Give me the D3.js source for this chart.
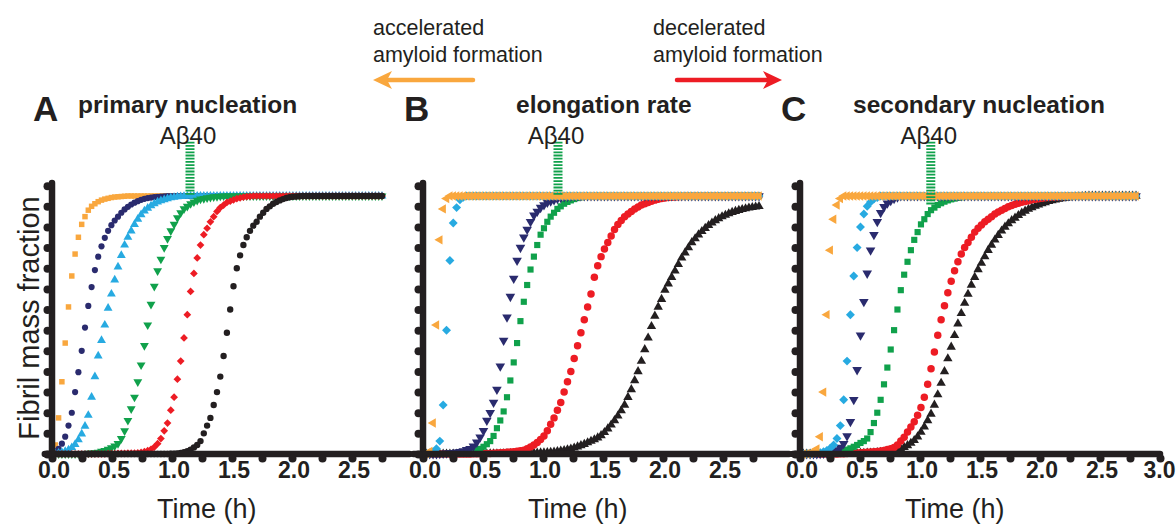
<!DOCTYPE html>
<html>
<head>
<meta charset="utf-8">
<script src="https://cdn.jsdelivr.net/npm/d3@7"></script>
<style>
  body { margin: 0; background: #fff; }
  svg { display: block; }
  text { font-family: "Liberation Sans", Arial, Helvetica, sans-serif; fill: #231F20; }
  .tick text { font-family: "Liberation Sans Narrow", "Arial Narrow", "Liberation Sans", Arial, sans-serif; }
</style>
</head>
<body>
<svg id="chart" width="1176" height="525"></svg>
<script>
// ---- sampling times (h) ----
const timeA = [
  0,0.0275,0.055,0.0825,0.11,0.1375,0.165,0.1925,0.22,0.2475,
  0.275,0.3025,0.33,0.3575,0.385,0.4125,0.44,0.4675,0.495,0.5225,
  0.55,0.5775,0.605,0.6325,0.66,0.6875,0.715,0.7425,0.77,0.7975,
  0.825,0.8525,0.88,0.9075,0.935,0.9625,0.99,1.0175,1.045,1.0725,
  1.1,1.1275,1.155,1.1825,1.21,1.2375,1.265,1.2925,1.32,1.3475,
  1.375,1.4025,1.43,1.4575,1.485,1.5125,1.54,1.5675,1.595,1.6225,
  1.65,1.6775,1.705,1.7325,1.76,1.7875,1.815,1.8425,1.87,1.8975,
  1.925,1.9525,1.98,2.0075,2.035,2.0625,2.09,2.1175,2.145,2.1725,
  2.2,2.2275,2.255,2.2825,2.31,2.3375,2.365,2.3925,2.42,2.4475,
  2.475,2.5025,2.53,2.5575,2.585,2.6125,2.64,2.6675,2.695,2.7225,
  2.75];
const timeBC = [
  0,0.028,0.056,0.084,0.112,0.14,0.168,0.196,0.224,0.252,
  0.28,0.308,0.336,0.364,0.392,0.42,0.448,0.476,0.504,0.532,
  0.56,0.588,0.616,0.644,0.672,0.7,0.728,0.756,0.784,0.812,
  0.84,0.868,0.896,0.924,0.952,0.98,1.008,1.036,1.064,1.092,
  1.12,1.148,1.176,1.204,1.232,1.26,1.288,1.316,1.344,1.372,
  1.4,1.428,1.456,1.484,1.512,1.54,1.568,1.596,1.624,1.652,
  1.68,1.708,1.736,1.764,1.792,1.82,1.848,1.876,1.904,1.932,
  1.96,1.988,2.016,2.044,2.072,2.1,2.128,2.156,2.184,2.212,
  2.24,2.268,2.296,2.324,2.352,2.38,2.408,2.436,2.464,2.492,
  2.52,2.548,2.576,2.604,2.632,2.66,2.688,2.716,2.744,2.772,
  2.8];

// ---- A: primary nucleation, fibril mass fraction ----
const aOrange = [
  0,.035,.14,.28,.43,.57,.69,.775,.84,.89,
  .92,.945,.96,.97,.978,.984,.988,.991,.994,.996,
  .997,.998,.999,1,1,1,1,1,1,1,
  1,1,1,1,1,1,1,1,1,1, 1,1,1,1,1,1,1,1,1,1,
  1,1,1,1,1,1,1,1,1,1, 1,1,1,1,1,1,1,1,1,1,
  1,1,1,1,1,1,1,1,1,1, 1,1,1,1,1,1,1,1,1,1,
  1,1,1,1,1,1,1,1,1,1, 1];
const aNavy = [
  0,.01,.02,.04,.067,.11,.16,.24,.317,.4,
  .49,.574,.647,.713,.765,.805,.838,.865,.887,.905,
  .92,.935,.948,.958,.967,.974,.98,.985,.989,.992,
  .994,.996,.997,.998,.999,1,1,1,1,1,
  1,1,1,1,1,1,1,1,1,1, 1,1,1,1,1,1,1,1,1,1,
  1,1,1,1,1,1,1,1,1,1, 1,1,1,1,1,1,1,1,1,1,
  1,1,1,1,1,1,1,1,1,1, 1,1,1,1,1,1,1,1,1,1, 1];
const aBlue = [
  0,.001,.003,.006,.01,.016,.025,.037,.055,.078,
  .108,.15,.22,.3,.38,.44,.5,.565,.62,.675,
  .725,.77,.81,.84,.865,.89,.91,.928,.942,.953,
  .962,.97,.977,.982,.986,.99,.993,.995,.997,.998,
  .999,1,1,1,1,1,1,1,1,1,
  1,1,1,1,1,1,1,1,1,1, 1,1,1,1,1,1,1,1,1,1,
  1,1,1,1,1,1,1,1,1,1, 1,1,1,1,1,1,1,1,1,1,
  1,1,1,1,1,1,1,1,1,1, 1];
const aGreen = [
  0,0,0,0,0,0,0,0,0,.001,
  .002,.003,.004,.005,.007,.01,.013,.018,.024,.031,
  .04,.06,.09,.13,.175,.22,.28,.345,.42,.5,
  .58,.65,.71,.755,.8,.835,.865,.89,.915,.935,
  .95,.96,.97,.977,.983,.988,.99,.993,.995,.997,
  .998,.999,1,1,1,1,1,1,1,1,
  1,1,1,1,1,1,1,1,1,1, 1,1,1,1,1,1,1,1,1,1,
  1,1,1,1,1,1,1,1,1,1, 1,1,1,1,1,1,1,1,1,1, 1];
const aRed = [
  0,0,0,0,0,0,0,0,0,0,
  0,0,0,0,0,0,0,.001,.001,.001,
  .002,.002,.002,.003,.003,.003,.004,.006,.009,.013,
  .018,.027,.04,.06,.09,.12,.17,.22,.29,.36,
  .45,.54,.63,.7,.76,.81,.85,.875,.9,.92,
  .94,.955,.965,.975,.98,.985,.99,.993,.996,.998,
  .999,1,1,1,1,1,1,1,1,1,
  1,1,1,1,1,1,1,1,1,1, 1,1,1,1,1,1,1,1,1,1,
  1,1,1,1,1,1,1,1,1,1, 1];
const aBlack = [
  0,0,0,0,0,0,0,0,0,0, 0,0,0,0,0,0,0,0,0,0, 0,0,0,0,0,0,0,0,0,0,
  0,0,0,0,0,0,.001,.001,.002,.004,
  .007,.011,.017,.025,.035,.05,.08,.11,.14,.19,
  .24,.3,.38,.47,.56,.65,.72,.77,.81,.84,
  .865,.885,.9,.92,.935,.95,.96,.97,.977,.983,
  .988,.992,.995,.997,.998,.999,1,1,1,1,
  1,1,1,1,1,1,1,1,1,1, 1,1,1,1,1,1,1,1,1,1, 1];

// ---- B: elongation rate ----
const bOrange = [
  0,.002,.01,.12,.5,.83,.95,.99,1,1,
  1,1,1,1,1,1,1,1,1,1, 1,1,1,1,1,1,1,1,1,1,
  1,1,1,1,1,1,1,1,1,1, 1,1,1,1,1,1,1,1,1,1,
  1,1,1,1,1,1,1,1,1,1, 1,1,1,1,1,1,1,1,1,1,
  1,1,1,1,1,1,1,1,1,1, 1,1,1,1,1,1,1,1,1,1,
  1,1,1,1,1,1,1,1,1,1, 1];
const bBlue = [
  0,.001,.003,.008,.02,.05,.19,.48,.75,.895,
  .955,.985,.995,1,1,1,1,1,1,1,
  1,1,1,1,1,1,1,1,1,1, 1,1,1,1,1,1,1,1,1,1,
  1,1,1,1,1,1,1,1,1,1, 1,1,1,1,1,1,1,1,1,1,
  1,1,1,1,1,1,1,1,1,1, 1,1,1,1,1,1,1,1,1,1,
  1,1,1,1,1,1,1,1,1,1, 1,1,1,1,1,1,1,1,1,1, 1];
const bNavy = [
  0,0,0,0,0,.001,.002,.003,.004,.005,
  .007,.009,.012,.016,.02,.03,.045,.065,.09,.13,
  .16,.2,.25,.34,.44,.53,.61,.68,.75,.8,
  .84,.87,.9,.925,.94,.955,.965,.975,.98,.985,
  .99,.993,.996,.998,.999,1,1,1,1,1,
  1,1,1,1,1,1,1,1,1,1, 1,1,1,1,1,1,1,1,1,1,
  1,1,1,1,1,1,1,1,1,1, 1,1,1,1,1,1,1,1,1,1,
  1,1,1,1,1,1,1,1,1,1, 1];
const bGreen = [
  0,0,0,0,0,0,0,0,.001,.002,
  .003,.004,.005,.006,.008,.011,.015,.02,.028,.038,
  .05,.07,.1,.13,.165,.22,.285,.355,.43,.515,
  .59,.655,.715,.765,.81,.85,.875,.9,.92,.935,
  .95,.96,.97,.977,.983,.988,.992,.995,.997,.998,
  .999,1,1,1,1,1,1,1,1,1,
  1,1,1,1,1,1,1,1,1,1, 1,1,1,1,1,1,1,1,1,1,
  1,1,1,1,1,1,1,1,1,1, 1,1,1,1,1,1,1,1,1,1, 1];
const bRed = [
  0,0,0,0,0,0,0,0,0,0,
  0,0,0,0,0,.001,.001,.001,.002,.002,
  .002,.003,.004,.005,.006,.007,.008,.009,.011,.013,
  .015,.02,.027,.035,.045,.056,.07,.09,.115,.14,
  .17,.2,.24,.28,.32,.37,.42,.47,.52,.57,
  .62,.685,.73,.765,.795,.82,.845,.87,.89,.905,
  .92,.93,.94,.95,.957,.965,.97,.975,.98,.984,
  .987,.99,.992,.994,.995,.996,.997,.998,.999,1,
  1,1,1,1,1,1,1,1,1,1, 1,1,1,1,1,1,1,1,1,1, 1];
const bBlack = [
  0,0,0,0,0,0,0,0,0,0, 0,0,0,0,0,0,0,0,0,0,
  .001,.001,.001,.001,.001,.002,.002,.002,.002,.002,
  .003,.003,.003,.004,.004,.005,.005,.006,.007,.008,
  .01,.012,.014,.017,.02,.024,.028,.033,.038,.044,
  .05,.056,.063,.072,.084,.098,.113,.13,.148,.168,
  .19,.22,.25,.285,.32,.36,.405,.45,.495,.535,
  .57,.6,.635,.66,.685,.71,.735,.76,.78,.8,
  .82,.835,.85,.863,.875,.886,.896,.905,.913,.92,
  .926,.932,.937,.941,.945,.948,.951,.954,.956,.958,
  .96];

// ---- C: secondary nucleation ----
const cOrange = [
  0,0,.001,.003,.008,.02,.067,.24,.54,.79,
  .91,.965,.99,1,1,1,1,1,1,1,
  1,1,1,1,1,1,1,1,1,1, 1,1,1,1,1,1,1,1,1,1,
  1,1,1,1,1,1,1,1,1,1, 1,1,1,1,1,1,1,1,1,1,
  1,1,1,1,1,1,1,1,1,1, 1,1,1,1,1,1,1,1,1,1,
  1,1,1,1,1,1,1,1,1,1, 1,1,1,1,1,1,1,1,1,1, 1];
const cBlue = [
  0,0,.001,.001,.002,.003,.005,.009,.014,.022,
  .035,.06,.11,.21,.36,.54,.69,.8,.88,.93,
  .96,.977,.988,.994,1,1,1,1,1,1,
  1,1,1,1,1,1,1,1,1,1, 1,1,1,1,1,1,1,1,1,1,
  1,1,1,1,1,1,1,1,1,1, 1,1,1,1,1,1,1,1,1,1,
  1,1,1,1,1,1,1,1,1,1, 1,1,1,1,1,1,1,1,1,1,
  1,1,1,1,1,1,1,1,1,1, 1];
const cNavy = [
  0,0,0,0,0,0,.001,.002,.003,.005,
  .009,.015,.025,.04,.07,.125,.21,.326,.46,.59,
  .7,.79,.85,.9,.935,.958,.972,.982,.99,.995,
  1,1,1,1,1,1,1,1,1,1, 1,1,1,1,1,1,1,1,1,1,
  1,1,1,1,1,1,1,1,1,1, 1,1,1,1,1,1,1,1,1,1,
  1,1,1,1,1,1,1,1,1,1, 1,1,1,1,1,1,1,1,1,1,
  1,1,1,1,1,1,1,1,1,1, 1];
const cGreen = [
  0,0,0,0,0,.001,.001,.002,.003,.004,
  .005,.007,.01,.013,.017,.022,.028,.035,.043,.05,
  .06,.085,.12,.16,.21,.27,.335,.405,.48,.56,
  .635,.695,.745,.79,.83,.86,.89,.91,.93,.945,
  .955,.965,.972,.978,.983,.987,.99,.993,.995,.997,
  .998,.999,1,1,1,1,1,1,1,1,
  1,1,1,1,1,1,1,1,1,1, 1,1,1,1,1,1,1,1,1,1,
  1,1,1,1,1,1,1,1,1,1, 1,1,1,1,1,1,1,1,1,1, 1];
const cRed = [
  0,0,0,0,0,0,0,0,0,0,
  0,0,.001,.001,.002,.003,.003,.004,.005,.006,
  .007,.008,.009,.01,.012,.014,.017,.02,.025,.035,
  .05,.065,.085,.105,.125,.15,.18,.22,.27,.33,
  .395,.46,.52,.575,.625,.67,.71,.745,.775,.8,
  .82,.84,.86,.875,.888,.9,.91,.92,.93,.938,
  .945,.952,.958,.963,.968,.972,.976,.979,.982,.985,
  .987,.989,.991,.993,.994,.995,.996,.997,.998,.999,
  1,1,1,1,1,1,1,1,1,1, 1,1,1,1,1,1,1,1,1,1, 1];
const cBlack = [
  0,0,0,0,0,0,0,0,0,0,
  0,0,0,0,.001,.002,.002,.002,.003,.003,
  .004,.004,.005,.006,.007,.008,.01,.012,.014,.017,
  .02,.026,.033,.042,.053,.067,.085,.105,.13,.155,
  .19,.23,.275,.32,.37,.415,.46,.505,.545,.585,
  .62,.655,.685,.715,.74,.765,.79,.81,.83,.848,
  .865,.88,.893,.905,.915,.925,.934,.942,.949,.955,
  .961,.966,.971,.975,.979,.982,.985,.988,.99,.992,
  .994,.995,.996,.997,.998,.999,1,1,1,1,
  1,1,1,1,1,1,1,1,1,1, 1];

// ---- axes, labels ----
const xTicks = [0,0.25,0.5,0.75,1,1.25,1.5,1.75,2,2.25,2.5,2.75];
const xTicksC = [0,0.25,0.5,0.75,1,1.25,1.5,1.75,2,2.25,2.5,2.75,3];
const xTickLabels = ["0.0","0.5","1.0","1.5","2.0","2.5","3.0"];
const yTicks = [0,0.08,0.16,0.24,0.32,0.4,0.48,0.56,0.64,0.72,0.8,0.88,0.96,1.04];
const panelLetters = ["A","B","C"];
const panelTitles = ["primary nucleation","elongation rate","secondary nucleation"];
const peptideLabel = "A\u03b240";
const markerTime = [1.15, 1.125, 1.09];     // Aβ40 reference position (h)
const markerTop = [1.21, 1.21, 1.21];
const markerBottom = [1.0, 1.0, 0.965];
const xTitle = "Time (h)";
const yTitle = "Fibril mass fraction";

const colors = {
  orange: "#F9A73E", navy: "#2A2B6E", blue: "#27AAE1",
  green: "#10A14B", red: "#ED1C24", black: "#231F20"
};

const svg = d3.select("#chart");
svg.append("rect").attr("width", 1176).attr("height", 525).attr("fill", "#fff");

// shared vertical scale
const y = d3.scaleLinear().domain([0, 1]).range([454, 196]);
const yAxisScale = d3.scaleLinear().domain([0, 1.05]).range([y(0), y(1.05)]);

const panels = [
  { origin: 52,  xmin: -0.06, xmax: 2.98, ticks: xTicks, time: timeA,
    series: [
      { v: aOrange, c: colors.orange, shape: "square",   size: 30 },
      { v: aNavy,   c: colors.navy,   shape: "circle",   size: 30 },
      { v: aBlue,   c: colors.blue,   shape: "triUp",    size: 34 },
      { v: aGreen,  c: colors.green,  shape: "triDown",  size: 34 },
      { v: aRed,    c: colors.red,    shape: "diamond",  size: 30 },
      { v: aBlack,  c: colors.black,  shape: "circle",   size: 32 } ] },
  { origin: 423, xmin: -0.08, xmax: 3.05, ticks: xTicks, time: timeBC,
    series: [
      { v: bBlack,  c: colors.black,  shape: "triUp",    size: 38 },
      { v: bRed,    c: colors.red,    shape: "circle",   size: 44 },
      { v: bGreen,  c: colors.green,  shape: "square",   size: 38 },
      { v: bNavy,   c: colors.navy,   shape: "triDown",  size: 40 },
      { v: bBlue,   c: colors.blue,   shape: "diamond",  size: 40 },
      { v: bOrange, c: colors.orange, shape: "triLeft",  size: 38 } ] },
  { origin: 800, xmin: -0.06, xmax: 3.0, ticks: xTicksC, time: timeBC,
    series: [
      { v: cBlack,  c: colors.black,  shape: "triUp",    size: 38 },
      { v: cRed,    c: colors.red,    shape: "circle",   size: 44 },
      { v: cGreen,  c: colors.green,  shape: "square",   size: 38 },
      { v: cNavy,   c: colors.navy,   shape: "triDown",  size: 40 },
      { v: cBlue,   c: colors.blue,   shape: "diamond",  size: 40 },
      { v: cOrange, c: colors.orange, shape: "triLeft",  size: 38 } ] }
];

const shapeDefs = {
  circle:  { type: d3.symbolCircle,   rot: 0 },
  square:  { type: d3.symbolSquare,   rot: 0 },
  diamond: { type: d3.symbolSquare,   rot: 45 },
  triUp:   { type: d3.symbolTriangle, rot: 0 },
  triDown: { type: d3.symbolTriangle, rot: 180 },
  triLeft: { type: d3.symbolTriangle, rot: -90 }
};

const PX_PER_H = 120;

panels.forEach((p, i) => {
  const x = d3.scaleLinear()
    .domain([p.xmin, p.xmax])
    .range([p.origin + PX_PER_H * p.xmin, p.origin + PX_PER_H * p.xmax]);
  const g = svg.append("g");

  // data markers
  p.series.forEach(s => {
    const def = shapeDefs[s.shape];
    const sym = d3.symbol().type(def.type).size(s.size);
    g.append("g").selectAll("path")
      .data(p.time.map((t, k) => [t, s.v[k]]))
      .join("path")
      .attr("d", sym)
      .attr("fill", s.c)
      .attr("transform", d => `translate(${x(d[0])},${y(d[1])}) rotate(${def.rot})`);
  });

  // x axis
  const xAxis = d3.axisBottom(x)
    .tickValues(p.ticks)
    .tickSize(0).tickSizeOuter(0)
    .tickFormat(d => (Math.round(d * 100) % 50 === 0) ? xTickLabels[Math.round(d * 2)] : "");
  const gx = g.append("g").attr("transform", `translate(0,${y(0)})`).call(xAxis);
  gx.select(".domain").attr("stroke", colors.black).attr("stroke-width", 6.5)
    .attr("stroke-linecap", "round").attr("d", `M${x(p.xmin)},0H${x(p.xmax)}`);
  gx.selectAll(".tick").append("circle").attr("cx", 0).attr("cy", 4.5).attr("r", 4).attr("fill", colors.black);
  gx.selectAll(".tick text")
    .attr("x", d => d >= 3 ? -1 : 1.5).attr("y", 24).attr("dy", null)
    .style("font-size", "23px").style("font-weight", "bold")
    .attr("fill", colors.black);

  // y axis
  const yAxis = d3.axisLeft(yAxisScale).tickValues(yTicks).tickSize(0).tickSizeOuter(0).tickFormat("");
  const gy = g.append("g").attr("transform", `translate(${x(0)},0)`).call(yAxis);
  gy.select(".domain").attr("stroke", colors.black).attr("stroke-width", 6.5)
    .attr("stroke-linecap", "round").attr("d", `M0,${y(0)}V${yAxisScale(1.05)}`);
  gy.selectAll(".tick").append("circle").attr("cx", -4.5).attr("cy", 0).attr("r", 4).attr("fill", colors.black);

  // Aβ40 reference marker
  g.append("line")
    .attr("x1", x(markerTime[i])).attr("x2", x(markerTime[i]))
    .attr("y1", y(markerTop[i])).attr("y2", y(markerBottom[i]))
    .attr("stroke", colors.green).attr("stroke-width", 9)
    .attr("stroke-dasharray", "1.8,1.4");
  g.append("text")
    .attr("x", x(markerTime[i]) - 2).attr("y", 144)
    .attr("text-anchor", "middle")
    .style("font-size", "24px")
    .text(peptideLabel);

  // panel letter + title
  g.append("text").attr("x", p.origin - 19).attr("y", 121)
    .style("font-size", "35px").style("font-weight", "bold").text(panelLetters[i]);
  g.append("text").attr("x", [78, 516, 853][i]).attr("y", 113)
    .style("font-size", "24.5px").style("font-weight", "bold").text(panelTitles[i]);

  // x title
  g.append("text").attr("x", x(1.29)).attr("y", 518)
    .attr("text-anchor", "middle").style("font-size", "27px").text(xTitle);
});

// y title
svg.append("text")
  .attr("transform", "translate(39,318) rotate(-90)")
  .attr("text-anchor", "middle")
  .style("font-size", "29px")
  .text(yTitle);

// direction annotations
const notes = [
  { lines: ["accelerated", "amyloid formation"], x: 373, color: colors.orange, from: 473, to: 373 },
  { lines: ["decelerated", "amyloid formation"], x: 653, color: colors.red, from: 677, to: 782 }
];
notes.forEach(n => {
  n.lines.forEach((l, j) => {
    svg.append("text").attr("x", n.x).attr("y", 35 + j * 27)
      .style("font-size", "21.5px").text(l);
  });
  const dir = Math.sign(n.to - n.from);
  const headLen = 19, halfW = 9, notch = 5;
  svg.append("line")
    .attr("x1", n.from).attr("x2", n.to - dir * (headLen - notch))
    .attr("y1", 80).attr("y2", 80)
    .attr("stroke", n.color).attr("stroke-width", 4.5).attr("stroke-linecap", "round");
  const tip = n.to, back = n.to - dir * headLen;
  svg.append("path")
    .attr("d", `M${tip},80L${back},${80 - halfW}L${back + dir * notch},80L${back},${80 + halfW}Z`)
    .attr("fill", n.color);
});
</script>
</body>
</html>
